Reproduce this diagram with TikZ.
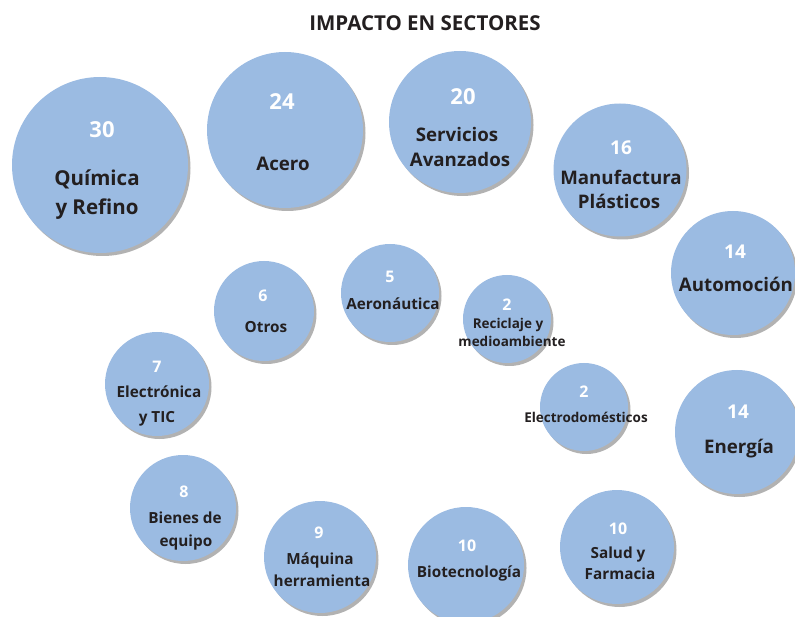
\documentclass[tikz,border=0pt]{standalone}
\usepackage{fontspec}
\setmainfont{Open Sans}
\usetikzlibrary{shadows}
\definecolor{bubfill}{HTML}{9BBBE2}
\definecolor{txt}{HTML}{231F20}
\tikzset{
  bub/.style={circle, fill=bubfill, inner sep=0pt, minimum size=#1,
    drop shadow={shadow xshift=2.5pt, shadow yshift=-3pt, fill=black, opacity=0.3}},
  numA/.style={text=white, anchor=base, inner sep=0pt, font=\bfseries\fontsize{22}{22}\selectfont},
  numB/.style={text=white, anchor=base, inner sep=0pt, font=\bfseries\fontsize{19}{19}\selectfont},
  numC/.style={text=white, anchor=base, inner sep=0pt, font=\bfseries\fontsize{16}{16}\selectfont},
  lblA/.style={text=txt, anchor=base, inner sep=0pt, font=\bfseries\fontsize{20.5}{20.5}\selectfont},
  lblB/.style={text=txt, anchor=base, inner sep=0pt, font=\bfseries\fontsize{18.7}{18.7}\selectfont},
  lblC/.style={text=txt, anchor=base, inner sep=0pt, font=\bfseries\fontsize{15.3}{15.3}\selectfont},
  lblD/.style={text=txt, anchor=base, inner sep=0pt, font=\bfseries\fontsize{13.5}{13.5}\selectfont},
  ttl/.style={text=txt, anchor=base, inner sep=0pt, font=\bfseries\fontsize{20.5}{20.5}\selectfont},
}
\begin{document}
\begin{tikzpicture}[x=1pt,y=-1pt]
\useasboundingbox (0,0) rectangle (795,617);
\node[ttl] (title) at (425,31) {IMPACTO EN SECTORES};
% circles
\node[bub=176pt] (c30) at (100,165) {};
\node[bub=156pt] (c24) at (285,130) {};
\node[bub=142pt] (c20) at (460,122) {};
\node[bub=133pt] (c16) at (620,170) {};
\node[bub=124pt] (c14a) at (733,273) {};
\node[bub=98pt] (c5) at (390,293) {};
\node[bub=100pt] (c6) at (264,311) {};
\node[bub=104pt] (c7) at (157,384) {};
\node[bub=88pt] (c2a) at (507,319) {};
\node[bub=88pt] (c2b) at (584,407) {};
\node[bub=124pt] (c14b) at (737,432) {};
\node[bub=106pt] (c8) at (183,508) {};
\node[bub=112pt] (c9) at (320,557) {};
\node[bub=116pt] (c10a) at (466,565) {};
\node[bub=114pt] (c10b) at (617,547) {};
% texts
\node[numA] (n30) at (102,138) {30};
\node[lblA] (l30a) at (97,186) {Química};
\node[lblA] (l30b) at (97,215) {y Refino};
\node[numA] (n24) at (282,110) {24};
\node[lblB] (l24) at (283,171) {Acero};
\node[numA] (n20) at (463,105) {20};
\node[lblB] (l20a) at (457,142) {Servicios};
\node[lblB] (l20b) at (460,167) {Avanzados};
\node[numB] (n16) at (621,155) {16};
\node[lblB] (l16a) at (621,185) {Manufactura};
\node[lblB] (l16b) at (619,209) {Plásticos};
\node[numB] (n14a) at (735,259) {14};
\node[lblB] (l14a) at (736,292) {Automoción};
\node[numC] (n5) at (390,283) {5};
\node[lblC] (l5) at (393,310) {Aeronáutica};
\node[numC] (n6) at (263,302) {6};
\node[lblC] (l6) at (266,333) {Otros};
\node[numC] (n7) at (157,373) {7};
\node[lblC] (l7a) at (159,398) {Electrónica};
\node[lblC] (l7b) at (157,422) {y TIC};
\node[numC] (n2a) at (507,311) {2};
\node[lblD] (l2a) at (508,329) {Reciclaje y};
\node[lblD] (l2b) at (512,347) {medioambiente};
\node[numC] (n2b) at (584,398) {2};
\node[lblD] (l2c) at (586,422) {Electrodomésticos};
\node[numB] (n14b) at (738,418) {14};
\node[lblB] (l14b) at (739,453) {Energía};
\node[numC] (n8) at (184,497) {8};
\node[lblC] (l8a) at (185,523) {Bienes de};
\node[lblC] (l8b) at (186,546) {equipo};
\node[numC] (n9) at (319,538) {9};
\node[lblC] (l9a) at (320,564) {Máquina};
\node[lblC] (l9b) at (322,586) {herramienta};
\node[numC] (n10a) at (467,551) {10};
\node[lblC] (l10a) at (469,577) {Biotecnología};
\node[numC] (n10b) at (618,534) {10};
\node[lblC] (l10b) at (618,558) {Salud y};
\node[lblC] (l10c) at (620,579) {Farmacia};
\end{tikzpicture}
\end{document}
